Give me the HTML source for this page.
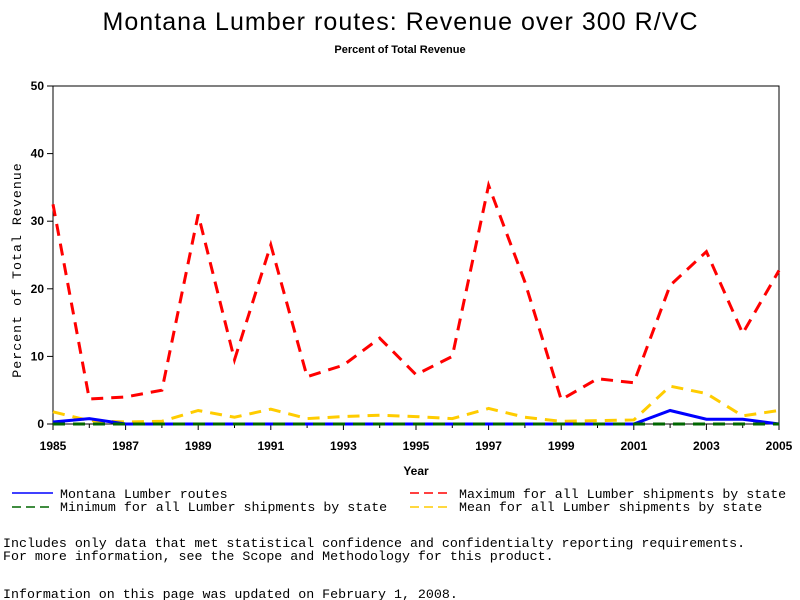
<!DOCTYPE html>
<html><head><meta charset="utf-8"><style>
body{margin:0;background:#fff;width:800px;height:600px;overflow:hidden}
svg{display:block}
.m{font-family:"Liberation Mono",monospace;font-size:13.3px}
</style></head><body>
<svg id="s" width="800" height="600" xmlns="http://www.w3.org/2000/svg">
<text x="400" y="30" text-anchor="middle" font-family="Liberation Sans,sans-serif" font-size="25" textLength="595">Montana Lumber routes: Revenue over 300 R/VC</text>
<text x="400" y="53" text-anchor="middle" font-family="Liberation Sans,sans-serif" font-size="11" font-weight="bold">Percent of Total Revenue</text>
<rect x="53" y="86" width="726" height="338" fill="none" stroke="#000" stroke-width="1"/>
<g id="ax" font-family="Liberation Sans,sans-serif" font-size="12" font-weight="bold"></g>
<text transform="translate(21,270) rotate(-90)" text-anchor="middle" class="m" font-size="12" style="letter-spacing:1px">Percent of Total Revenue</text>
<text x="416" y="475" text-anchor="middle" font-family="Liberation Sans,sans-serif" font-size="12" font-weight="bold">Year</text>
<g id="d" fill="none"></g>
<line x1="12" y1="493" x2="53" y2="493" stroke="#00f" stroke-width="1.5"/>
<text x="60" y="498" class="m">Montana Lumber routes</text>
<line x1="12" y1="507" x2="53" y2="507" stroke="#060" stroke-width="1.5" stroke-dasharray="9,5"/>
<text x="60" y="511" class="m">Minimum for all Lumber shipments by state</text>
<line x1="410" y1="493" x2="452" y2="493" stroke="#f00" stroke-width="1.5" stroke-dasharray="9,5"/>
<text x="459" y="498" class="m">Maximum for all Lumber shipments by state</text>
<line x1="410" y1="507" x2="452" y2="507" stroke="#fc0" stroke-width="1.5" stroke-dasharray="9,5"/>
<text x="459" y="511" class="m">Mean for all Lumber shipments by state</text>
<text x="3" y="547" class="m">Includes only data that met statistical confidence and confidentialty reporting requirements.</text>
<text x="3" y="560" class="m">For more information, see the Scope and Methodology for this product.</text>
<text x="3" y="598" class="m">Information on this page was updated on February 1, 2008.</text>
</svg>
<script>
var NS="http://www.w3.org/2000/svg";
function X(i){return 53+i*36.3}function Y(v){return 424-v*6.76}
function el(p,t,a,txt){var e=document.createElementNS(NS,t);for(var k in a)e.setAttribute(k,a[k]);if(txt!=null)e.textContent=txt;p.appendChild(e);return e}
var ax=document.getElementById('ax');
for(var v=0;v<=50;v+=10){el(ax,'line',{x1:47,x2:53,y1:Y(v),y2:Y(v),stroke:'#000'});el(ax,'text',{x:44,y:Y(v)+4,'text-anchor':'end'},v)}
for(var i=0;i<=20;i++){el(ax,'line',{x1:X(i),x2:X(i),y1:424,y2:i%2?428:430,stroke:'#000'});if(i%2==0)el(ax,'text',{x:X(i),y:450,'text-anchor':'middle'},1985+i)}
var d=document.getElementById('d');
function S(vals,c,w,da){el(d,'polyline',{points:vals.map(function(v,i){return X(i)+','+Y(v)}).join(' '),stroke:c,'stroke-width':w,'stroke-dasharray':da||'none'})}
S([1.8,0.5,0.3,0.4,2.0,1.0,2.2,0.8,1.1,1.3,1.1,0.8,2.3,1.0,0.4,0.5,0.6,5.6,4.5,1.2,2.0],'#fc0',3,'12,8');
S([0.3,0.8,0,0,0,0,0,0,0,0,0,0,0,0,0,0,0,2.0,0.7,0.7,0],'#00f',3);
S([0,0,0,0,0,0,0,0,0,0,0,0,0,0,0,0,0,0,0,0,0],'#060',3,'12,8');
S([32.5,3.7,4,5,31,9.5,26.5,7,8.7,12.7,7.3,10,35.3,21,3.6,6.7,6.1,20.5,25.5,13.4,22.7],'#f00',3,'12,8');
</script>
</body></html>
